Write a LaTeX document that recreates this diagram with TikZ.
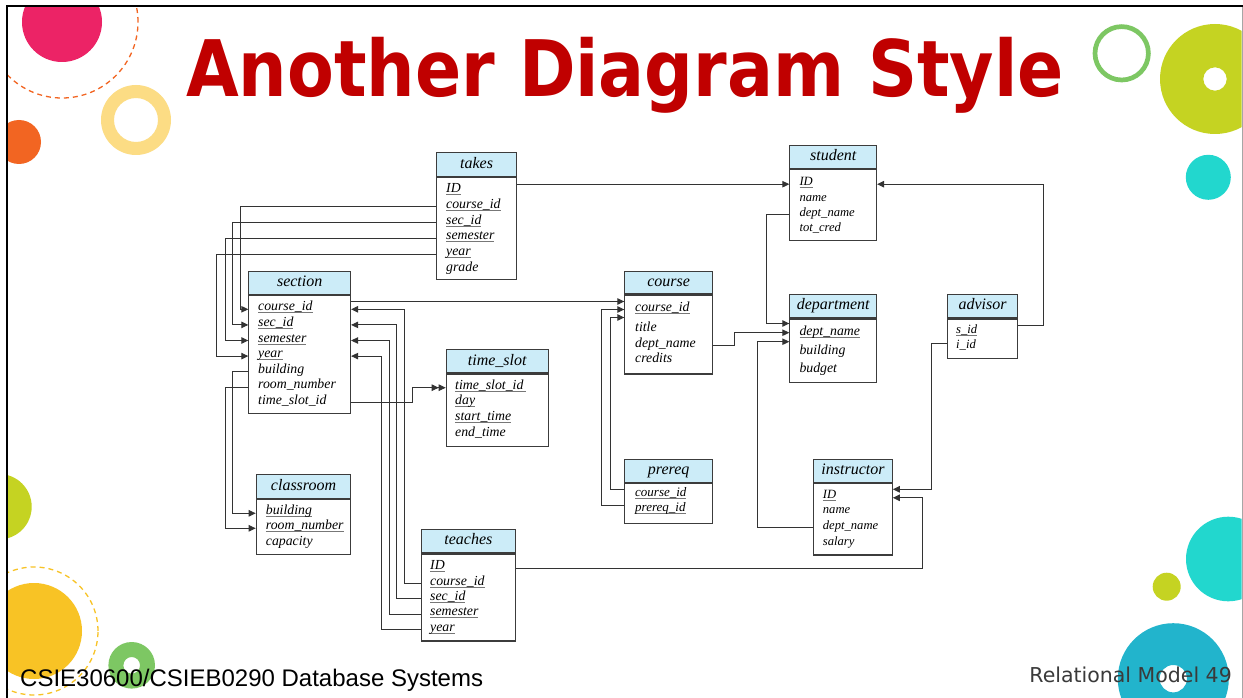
\documentclass[tikz,border=0pt]{standalone}
\usepackage{fontspec}
\usepackage{graphicx}
\setmainfont{Liberation Serif}
\newfontfamily\titlefont{DejaVu Sans}
\newfontfamily\footfont{Liberation Sans}
\newfontfamily\pagefont{DejaVu Sans}
\usetikzlibrary{arrows.meta,calc}

\definecolor{pinkc}{HTML}{EC2366}
\definecolor{orangec}{HTML}{F26522}
\definecolor{yellowl}{HTML}{FCDC84}
\definecolor{yellowc}{HTML}{F8C325}
\definecolor{greenc}{HTML}{7DC763}
\definecolor{limec}{HTML}{C5D322}
\definecolor{cyanc}{HTML}{22D7CE}
\definecolor{bluec}{HTML}{22B4CC}
\definecolor{titlered}{HTML}{C00000}
\definecolor{hdrblue}{HTML}{CCECF8}
\definecolor{boxcol}{HTML}{3C3C3C}
\definecolor{linecol}{HTML}{333333}
\definecolor{ulgray}{HTML}{777777}
\definecolor{pagegray}{HTML}{3A3A3A}

% underlined key attribute
\newcommand\ky[1]{\setbox0\hbox{#1}\rlap{\color{ulgray}\rule[-2.2pt]{\wd0}{0.7pt}}\box0}

\tikzset{
  hdr/.style={draw=boxcol, line width=1.1pt, fill=hdrblue, inner sep=0pt, anchor=north west,
    text height=11pt, text depth=3.5pt, font=\itshape\fontsize{16}{18}\selectfont},
  bodybox/.style={draw=boxcol, line width=1.1pt, fill=white, inner sep=0pt, anchor=north west},
  fld/.style={anchor=base west, inner sep=0pt, text height=9pt, text depth=6pt,
    font=\itshape\fontsize{13.8}{15}\selectfont},
  fldS/.style={fld, font=\itshape\fontsize{12.6}{14}\selectfont},
  fldM/.style={fld, font=\itshape\fontsize{13}{14}\selectfont},
  fk/.style={draw=linecol, line width=0.9pt, -{Triangle[length=7pt,width=6.5pt]}},
  fk2/.style={draw=linecol, line width=0.9pt,
    -{Triangle[length=7pt,width=6.5pt]Triangle[length=7pt,width=6.5pt]}},
}

\begin{document}
\begin{tikzpicture}[x=1pt,y=-1pt]
\useasboundingbox (0,0) rectangle (1243,698);
\fill[white] (0,0) rectangle (1243,698);

% ---- decorative circles ----
\begin{scope}
\clip (8,7.3) rectangle (1241.5,698);
\fill[pinkc] (62,22) circle[radius=40pt];
\draw[orangec, line width=1.3pt, dash pattern=on 5pt off 4pt] (62,22) circle[radius=76pt];
\fill[yellowl, even odd rule] (136,120) circle[radius=35pt] (136,120) circle[radius=22pt];
\fill[orangec] (19,142) circle[radius=22pt];
\draw[greenc, line width=4.7pt] (1121.7,53.3) circle[radius=26.7pt];
\fill[limec, even odd rule] (1215,79) circle[radius=55pt] (1215,79) circle[radius=11.7pt];
\fill[cyanc] (1208.3,177.3) circle[radius=22.5pt];
\fill[limec] (-1,506.7) circle[radius=32.7pt];
\fill[yellowc] (34,631) circle[radius=48pt];
\draw[yellowc, line width=1.3pt, dash pattern=on 5pt off 4pt] (34,631) circle[radius=64pt];
\fill[greenc, even odd rule] (131.7,665.3) circle[radius=23.3pt] (131.7,665.3) circle[radius=8.3pt];
\fill[cyanc] (1228.3,559) circle[radius=42.3pt];
\fill[limec] (1166.7,586.7) circle[radius=14pt];
\fill[bluec, even odd rule] (1173.3,678.7) circle[radius=55.5pt] (1173.3,678.7) circle[radius=13.7pt];
\end{scope}

% ---- slide frame ----
\draw[black, line width=2pt] (7,698) -- (7,6.3) -- (1243,6.3);
\draw[gray!70, line width=1pt] (1242,7) -- (1242,698);

% ---- title and footer ----
\node[anchor=base west, inner sep=0pt, text=titlered,
  font=\titlefont\bfseries\fontsize{78}{80}\selectfont] (title) at (186,97)
  {\scalebox{0.874}[1]{Another Diagram Style}};
\node[anchor=base west, inner sep=0pt, font=\footfont\fontsize{24}{26}\selectfont]
  (footleft) at (20,686) {CSIE30600/CSIEB0290 Database Systems};
\node[anchor=base east, inner sep=0pt, text=pagegray, font=\pagefont\fontsize{20.5}{22}\selectfont]
  (pageno) at (1232,682.3) {Relational Model 49};

% ---- takes ----
\node[hdr, minimum width=80pt, minimum height=24pt] (takes) at (436,152) {takes};
\node[bodybox, minimum width=80pt, minimum height=102pt] (takes-b) at (takes.south west) {};
\node[fld] (tk-id)  at (446,192.3) {\ky{ID}};
\node[fld] (tk-cid) at (446,208.2) {\ky{course\_id}};
\node[fld] (tk-sid) at (446,224.1) {\ky{sec\_id}};
\node[fld] (tk-sem) at (446,240.0) {\ky{semester}};
\node[fld] (tk-yr)  at (446,255.9) {\ky{year}};
\node[fld] (tk-gr)  at (446,271.8) {grade};

% ---- section ----
\node[hdr, minimum width=101.7pt, minimum height=23.3pt] (section) at (248.3,270.7) {section};
\node[bodybox, minimum width=101.7pt, minimum height=117.7pt] (section-b) at (section.south west) {};
\node[fld] (se-cid) at (258,310.8) {\ky{course\_id}};
\node[fld] (se-sid) at (258,326.4) {\ky{sec\_id}};
\node[fld] (se-sem) at (258,342.0) {\ky{semester}};
\node[fld] (se-yr)  at (258,357.6) {\ky{year}};
\node[fld] (se-bld) at (258,373.2) {building};
\node[fld] (se-rn)  at (258,388.8) {room\_number};
\node[fld] (se-ts)  at (258,404.4) {time\_slot\_id};

% ---- time_slot ----
\node[hdr, minimum width=102pt, minimum height=23pt] (timeslot) at (445.7,349.3) {time\_slot};
\node[bodybox, minimum width=102pt, minimum height=72.7pt] (timeslot-b) at (timeslot.south west) {};
\node[fld] (ts-id)  at (455,389.2) {\ky{time\_slot\_id\,}};
\node[fld] (ts-day) at (455,404.8) {\ky{day}};
\node[fld] (ts-st)  at (455,420.4) {\ky{start\_time}};
\node[fld] (ts-et)  at (455,436.0) {end\_time};

% ---- classroom ----
\node[hdr, minimum width=94.6pt, minimum height=23.7pt] (classroom) at (255.7,474) {classroom};
\node[bodybox, minimum width=94.6pt, minimum height=55pt] (classroom-b) at (classroom.south west) {};
\node[fld] (cl-bld) at (265.7,514.8) {\ky{building}};
\node[fld] (cl-rn)  at (265.7,529.8) {\ky{room\_number}};
\node[fld] (cl-cap) at (265.7,545.0) {capacity};

% ---- teaches ----
\node[hdr, minimum width=94.3pt, minimum height=23.3pt] (teaches) at (420.7,529) {teaches};
\node[bodybox, minimum width=94.3pt, minimum height=87pt] (teaches-b) at (teaches.south west) {};
\node[fld] (te-id)  at (430,569.8) {\ky{ID}};
\node[fld] (te-cid) at (430,585.1) {\ky{course\_id}};
\node[fld] (te-sid) at (430,600.4) {\ky{sec\_id}};
\node[fld] (te-sem) at (430,615.7) {\ky{semester}};
\node[fld] (te-yr)  at (430,631.0) {\ky{year}};

% ---- course ----
\node[hdr, minimum width=87.7pt, minimum height=22.6pt] (course) at (624.3,270.7) {course};
\node[bodybox, minimum width=87.7pt, minimum height=79pt] (course-b) at (course.south west) {};
\node[fld] (co-cid) at (635,311.0) {\ky{course\_id}};
\node[fld] (co-tt)  at (635,331.0) {title};
\node[fld] (co-dn)  at (635,347.0) {dept\_name};
\node[fld] (co-cr)  at (635,362.5) {credits};

% ---- prereq ----
\node[hdr, minimum width=87.7pt, minimum height=22.4pt] (prereq) at (624.3,459.3) {prereq};
\node[bodybox, minimum width=87.7pt, minimum height=40pt] (prereq-b) at (prereq.south west) {};
\node[fldM] (pr-cid) at (635,496.0) {\ky{course\_id}};
\node[fldM] (pr-pid) at (635,511.5) {\ky{prereq\_id}};

% ---- student ----
\node[hdr, minimum width=86.7pt, minimum height=23.3pt] (student) at (789.3,144.7) {student};
\node[bodybox, minimum width=86.7pt, minimum height=70.7pt] (student-b) at (student.south west) {};
\node[fldS] (st-id) at (799.3,185.7) {\ky{ID}};
\node[fldS] (st-nm) at (799.3,201.0) {name};
\node[fldS] (st-dn) at (799.3,216.3) {dept\_name};
\node[fldS] (st-tc) at (799.3,231.8) {tot\_cred};

% ---- department ----
\node[hdr, minimum width=86.7pt, minimum height=23.3pt] (department) at (789.3,294) {department};
\node[bodybox, minimum width=86.7pt, minimum height=63.4pt] (department-b) at (department.south west) {};
\node[fld] (de-dn)  at (799.3,335.0) {\ky{dept\_name}};
\node[fld] (de-bld) at (799.3,354.0) {building};
\node[fld] (de-bg)  at (799.3,372.3) {budget};

% ---- advisor ----
\node[hdr, minimum width=70.6pt, minimum height=23.3pt] (advisor) at (946.7,294) {advisor};
\node[bodybox, minimum width=70.6pt, minimum height=39.4pt] (advisor-b) at (advisor.south west) {};
\node[fldS] (ad-sid) at (956,333.3) {\ky{s\_id}};
\node[fldS] (ad-iid) at (956,348.7) {i\_id};

% ---- instructor ----
\node[hdr, minimum width=78.4pt, minimum height=22.4pt] (instructor) at (813.3,459.3) {instructor};
\node[bodybox, minimum width=78.4pt, minimum height=71.6pt] (instructor-b) at (instructor.south west) {};
\node[fldS] (in-id) at (822.7,498.3) {\ky{ID}};
\node[fldS] (in-nm) at (822.7,513.5) {name};
\node[fldS] (in-dn) at (822.7,529.3) {dept\_name};
\node[fldS] (in-sl) at (822.7,545.0) {salary};

% ---- attachment points for stacked arrows ----
\coordinate (co-in1) at ($(course-b.west |- co-cid)+(0,-8)$);
\coordinate (co-in2) at (course-b.west |- co-cid);
\coordinate (co-in3) at ($(course-b.west |- co-cid)+(0,8)$);
\coordinate (pr-out1) at ($(prereq-b.west |- pr-cid)+(0,-5)$);
\coordinate (pr-out2) at ($(prereq-b.west |- pr-pid)+(0,-5)$);
\coordinate (de-in1) at ($(department-b.west |- de-dn)+(0,-10)$);
\coordinate (de-in2) at ($(department-b.west |- de-dn)+(0,-0.8)$);
\coordinate (de-in3) at ($(department-b.west |- de-dn)+(0,8.2)$);
\coordinate (ad-out1) at ($(advisor-b.east |- ad-sid)+(0,-6)$);
\coordinate (ad-out2) at ($(advisor-b.west |- ad-iid)+(0,-4)$);
\coordinate (in-in1) at ($(instructor-b.east |- in-id)+(0,-7.5)$);
\coordinate (in-in2) at ($(instructor-b.east |- in-id)+(0,1)$);

% ---- foreign keys ----
% takes
\draw[fk] (takes-b.east |- st-id) -- (student-b.west |- st-id);
\draw[fk] (takes-b.west |- tk-cid) -- (240,0 |- tk-cid) -- (240,0 |- se-cid) -- (section-b.west |- se-cid);
\draw[fk] (takes-b.west |- tk-sid) -- (232.3,0 |- tk-sid) -- (232.3,0 |- se-sid) -- (section-b.west |- se-sid);
\draw[fk] (takes-b.west |- tk-sem) -- (225,0 |- tk-sem) -- (225,0 |- se-sem) -- (section-b.west |- se-sem);
\draw[fk] (takes-b.west |- tk-yr) -- (216.7,0 |- tk-yr) -- (216.7,0 |- se-yr) -- (section-b.west |- se-yr);
% section
\draw[fk] (section-b.west |- se-bld) -- (232.3,0 |- se-bld) -- (232.3,0 |- cl-bld) -- (classroom-b.west |- cl-bld);
\draw[fk] (section-b.west |- se-rn) -- (225,0 |- se-rn) -- (225,0 |- cl-rn) -- (classroom-b.west |- cl-rn);
\draw[fk2] (section-b.east |- se-ts) -- (412.3,0 |- se-ts) -- (412.3,0 |- ts-id) -- (timeslot-b.west |- ts-id);
\draw[fk] (section-b.east |- co-in1) -- (co-in1);
% teaches
\draw[fk] (teaches-b.west |- te-cid) -- (404.3,0 |- te-cid) -- (404.3,0 |- se-cid) -- (section-b.east |- se-cid);
\draw[fk] (teaches-b.west |- te-sid) -- (396.7,0 |- te-sid) -- (396.7,0 |- se-sid) -- (section-b.east |- se-sid);
\draw[fk] (teaches-b.west |- te-sem) -- (389,0 |- te-sem) -- (389,0 |- se-sem) -- (section-b.east |- se-sem);
\draw[fk] (teaches-b.west |- te-yr) -- (381.7,0 |- te-yr) -- (381.7,0 |- se-yr) -- (section-b.east |- se-yr);
\draw[fk] (teaches-b.east |- te-id) -- (922.7,0 |- te-id) -- (922.7,0 |- in-in2) -- (in-in2);
% prereq
\draw[fk] (pr-out2) -- (601.7,0 |- pr-out2) -- (601.7,0 |- co-in2) -- (co-in2);
\draw[fk] (pr-out1) -- (610,0 |- pr-out1) -- (610,0 |- co-in3) -- (co-in3);
% department references
\draw[fk] (student-b.west |- st-dn) -- (766,0 |- st-dn) -- (766,0 |- de-in1) -- (de-in1);
\draw[fk] (course-b.east |- co-dn) -- (734,0 |- co-dn) -- (734,0 |- de-in2) -- (de-in2);
\draw[fk] (instructor-b.west |- in-dn) -- (757.7,0 |- in-dn) -- (757.7,0 |- de-in3) -- (de-in3);
% advisor
\draw[fk] (ad-out1) -- (1043,0 |- ad-out1) -- (1043,0 |- st-id) -- (student-b.east |- st-id);
\draw[fk] (ad-out2) -- (931.7,0 |- ad-out2) -- (931.7,0 |- in-in1) -- (in-in1);
\end{tikzpicture}
\end{document}
